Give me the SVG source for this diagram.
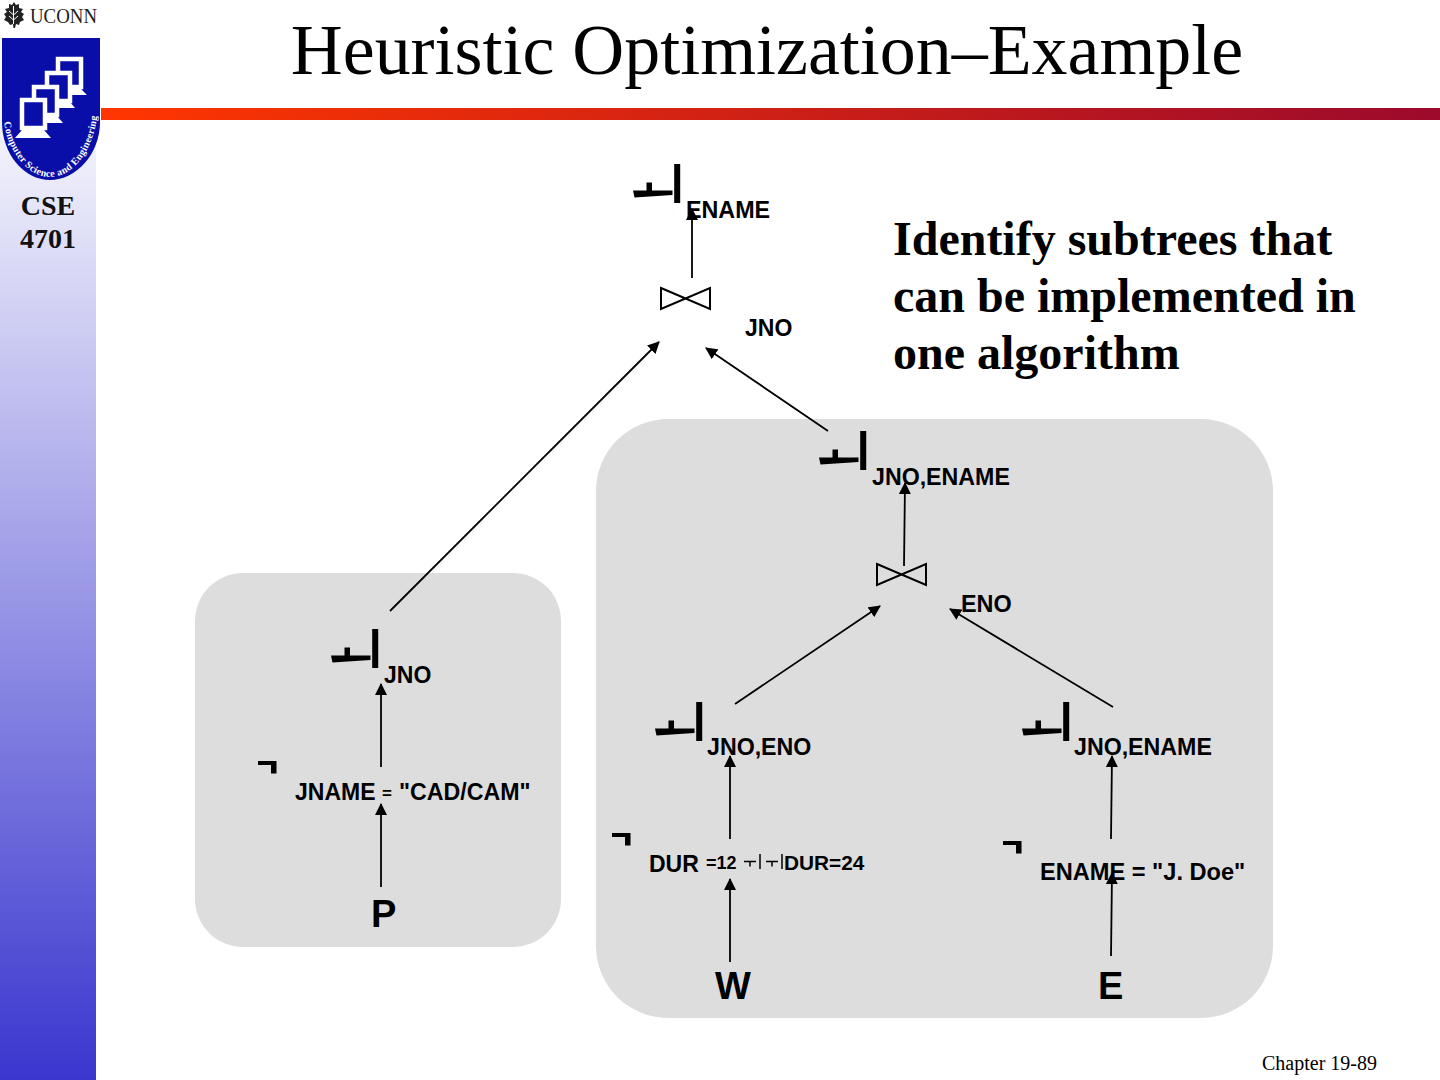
<svg xmlns="http://www.w3.org/2000/svg" width="1440" height="1080" viewBox="0 0 1440 1080">
<style>
.s{font-family:"Liberation Sans",Arial,sans-serif;font-weight:700;fill:#000}
.t{font-family:"Liberation Serif","Times New Roman",serif;fill:#000}
.b{font-family:"Liberation Serif","Times New Roman",serif;font-weight:700;fill:#000}
.c{stroke:#000;stroke-width:1.800;fill:none;marker-end:url(#a)}
.box{fill:#ddd}
.bt{fill:none;stroke:#000;stroke-width:2}
.m{fill:#0a0ea8;stroke:#fff;stroke-width:4.500}
</style>
<defs>
<linearGradient id="side" x1="0" y1="0" x2="0" y2="1"><stop offset="0" stop-color="#fff"/><stop offset="0.14" stop-color="#f0f0fb"/><stop offset="1" stop-color="#3a36cf"/></linearGradient>
<linearGradient id="bar" x1="0" y1="0" x2="1" y2="0"><stop offset="0" stop-color="#ff3600"/><stop offset="1" stop-color="#9c0a2c"/></linearGradient>
<marker id="a" viewBox="0 0 12 12" refX="11" refY="6" markerWidth="12" markerHeight="12" markerUnits="userSpaceOnUse" orient="auto"><path d="M0 0L12 6L0 12z" fill="#000"/></marker>
<path id="pi" d="M-.3 0h6v39h-6zM-2 26.500v4.500l-38 2.500l-1.500-7l13.500 0v-8h5.500v8z"/>
<path id="sg" d="M0 0h18.500v12.500h-5.500v-8.500h-13z"/>
<path id="bowtie" d="M0 0L49 21V0L0 21z"/>
<path id="mini" d="M0 5.500h12M6 5.500v5M16 -2v15" stroke="#000" stroke-width="1.500" fill="none"/>
<rect id="mon" width="23" height="28"/>
<path id="ci" d="M4 122C8 152 28 177 50 177C72 177 93 152 97 116L98 100"/>
</defs>
<rect width="1440" height="1080" fill="#fff"/>
<rect id="sidebar" x="0" y="0" width="96" height="1080" fill="url(#side)"/>
<rect id="rule" x="101" y="108" width="1339" height="12" fill="url(#bar)"/>
<g id="logo">
<rect x="0" y="0" width="97" height="38" fill="#fff"/>
<path d="M14 2l2 3l3-1l0 4l4 1l-2 3l3 2l-2 3l2 3l-4 2l-1 3l-3-1l-1 4h-1.500l-.5 -4l-3 1l-2-3l-4-2l2-3l-2-3l3-2l-2-3l4-1l0-4l3 1z" fill="#222"/>
<path d="M13.500 6v18M9 11l4.500 4l4.500-4M9 16l4.500 4l4.500-4" stroke="#fff" stroke-width="1" fill="none"/>
<text class="t" x="30" y="23" font-size="22" textLength="67" lengthAdjust="spacingAndGlyphs" style="fill:#222">UCONN</text>
<path d="M2 38H100V122C100 154 76 180 50 180C24 180 2 154 2 122z" fill="#0a0ea8"/>
<g id="monitors">
<use href="#mon" x="58" y="59" class="m"/><path d="M60 89h21l6 6h-30z" fill="#fff"/>
<use href="#mon" x="47" y="73" class="m"/><path d="M49 102h21l5 6h-28z" fill="#fff"/>
<use href="#mon" x="34" y="87" class="m"/><path d="M36 116h21l6 7h-29z" fill="#fff"/>
<use href="#mon" x="22" y="100" class="m"/><path d="M22 130h22l7 8h-36z" fill="#fff"/>
</g>
<text font-family="'Liberation Serif',serif" font-size="10" font-weight="700" letter-spacing=".3" fill="#fff"><textPath href="#ci">Computer Science and Engineering</textPath></text>
</g>
<g id="course"><text class="b" x="48" y="215" font-size="28" text-anchor="middle" style="fill:#111">CSE</text><text class="b" x="48" y="248" font-size="28" text-anchor="middle" style="fill:#111">4701</text></g>
<text id="title" class="t" x="767" y="74" font-size="71.900" text-anchor="middle">Heuristic Optimization–Example</text>
<rect id="g1" class="box" x="195" y="573" width="366" height="374" rx="48"/>
<rect id="g2" class="box" x="596" y="419" width="677" height="599" rx="72"/>
<g id="connectors">
<path class="c" d="M692 278V209"/>
<path class="c" d="M390 611L659 342"/>
<path class="c" d="M828 431L706 348"/>
<path class="c" d="M904 566L905 483"/>
<path class="c" d="M735 704L880 606"/>
<path class="c" d="M1113 707L950 609"/>
<path class="c" d="M381 767V684"/>
<path class="c" d="M381 887V804"/>
<path class="c" d="M730 839V756"/>
<path class="c" d="M730 962V879"/>
<path class="c" d="M1111 839L1112 756"/>
<path class="c" d="M1111 956L1112 873"/>
</g>
<g id="n-pi-ename"><use href="#pi" x="674.500" y="164"/><text class="s" x="686" y="217.500" font-size="23.300">ENAME</text></g>
<g id="n-join-jno"><use href="#bowtie" x="661" y="288" class="bt"/><text class="s" x="745" y="336" font-size="23">JNO</text></g>
<g id="n-pi-jno-ename"><use href="#pi" x="860.500" y="431"/><text class="s" x="872" y="484.500" font-size="23.200">JNO,ENAME</text></g>
<g id="n-join-eno"><use href="#bowtie" x="877" y="564" class="bt"/><text class="s" x="961" y="611.500" font-size="23.400">ENO</text></g>
<g id="n-pi-jno"><use href="#pi" x="372.500" y="629"/><text class="s" x="384" y="682.500" font-size="23">JNO</text></g>
<g id="n-sel-jname"><use href="#sg" x="258" y="761"/><text class="s" x="295" y="799.500" font-size="23">JNAME</text><text class="s" x="382" y="799" font-size="17">=</text><text class="s" x="399" y="799.500" font-size="23.200">"CAD/CAM"</text></g>
<g id="n-p"><text class="s" x="371" y="927" font-size="38">P</text></g>
<g id="n-pi-jno-eno"><use href="#pi" x="696.500" y="702"/><text class="s" x="707" y="754.500" font-size="23.200">JNO,ENO</text></g>
<g id="n-pi-jno-ename2"><use href="#pi" x="1063.500" y="702"/><text class="s" x="1074" y="754.500" font-size="23.200">JNO,ENAME</text></g>
<g id="n-sel-dur"><use href="#sg" x="612" y="833"/><text class="s" x="649" y="871.500" font-size="23">DUR</text><text class="s" x="706" y="869" font-size="18">=12</text><use href="#mini" x="744" y="856"/><use href="#mini" x="766" y="856"/><text class="s" x="784" y="870" font-size="20.800">DUR=24</text></g>
<g id="n-sel-ename"><use href="#sg" x="1003" y="841"/><text class="s" x="1040" y="879.500" font-size="23.600">ENAME = "J. Doe"</text></g>
<g id="n-w"><text class="s" x="715" y="999" font-size="38">W</text></g>
<g id="n-e"><text class="s" x="1098" y="999" font-size="38">E</text></g>
<g id="note" font-size="48"><text class="b" x="893" y="255">Identify subtrees that</text><text class="b" x="893" y="312">can be implemented in</text><text class="b" x="893" y="369">one algorithm</text></g>
<text id="footer" class="t" x="1262" y="1070" font-size="20">Chapter 19-89</text>
</svg>
